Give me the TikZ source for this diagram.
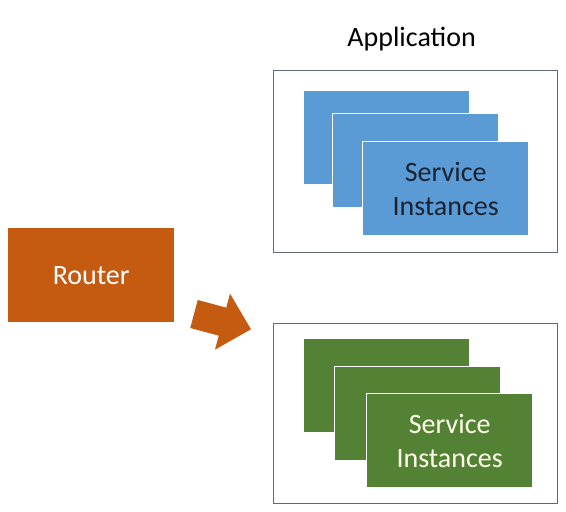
\documentclass[tikz,border=0pt]{standalone}
\usepackage{fontspec}
\setmainfont{Carlito}
\usetikzlibrary{positioning}
\definecolor{routerorange}{HTML}{C55A11}
\definecolor{serviceblue}{HTML}{5B9BD5}
\definecolor{servicegreen}{HTML}{548235}
\definecolor{framegray}{HTML}{5F6A72}
\definecolor{inkdark}{HTML}{1A2230}
\tikzset{
	block/.style={
		rectangle,
		align=center,
		inner sep=0pt,
		anchor=north west,
		font=\fontsize{28}{34}\selectfont
	},
	frame/.style={
		rectangle,
		draw=framegray,
		line width=1.2pt,
		inner sep=0pt,
		anchor=north west,
		minimum width=284pt
	},
	card/.style={
		block,
		draw=white,
		line width=1.4pt,
		minimum width=166pt,
		minimum height=94pt
	}
}
\begin{document}
\begin{tikzpicture}[x=1pt,y=-1pt]
					\useasboundingbox (0,0) rectangle (566,512);
					\node[frame, minimum height=182pt] (App) at (273,70){};
					\node[frame, minimum height=180pt] (AppB) at (273,323){};
					\node[block, anchor=south] (AppLabel) at ([xshift=-4pt,yshift=19pt]App.north){Application};
					
					\node[card, fill=serviceblue] (BlueA) at (303,90){};
					\node[card, fill=serviceblue] (BlueB) at (332,113){};
					\node[card, fill=serviceblue, text=inkdark] (BlueC) at (362,141){Service\\ Instances};
					
					\node[card, fill=servicegreen] (GreenA) at (303,338){};
					\node[card, fill=servicegreen] (GreenB) at (334,366){};
					\node[card, fill=servicegreen, text=white!92!yellow] (GreenC) at (366,393){Service\\ Instances};
					
					\node[block, fill=routerorange, text=white, minimum width=166pt, minimum height=94pt] (Router) at (8,228){Router};
					
					% block arrow towards the second application
					\begin{scope}[shift={(194,314)}, rotate=-15]
						\fill[routerorange] (0,-14.5) -- (29.5,-14.5) -- (29.5,-29) -- (59,0) -- (29.5,29) -- (29.5,14.5) -- (0,14.5) -- cycle;
					\end{scope}
				\end{tikzpicture}
\end{document}
